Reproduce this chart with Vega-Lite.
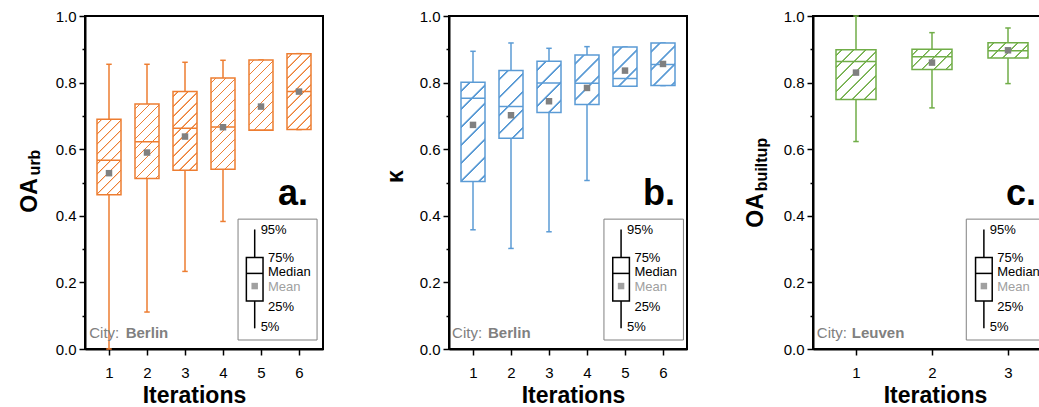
{
  "$schema": "https://vega.github.io/schema/vega-lite/v6.json",
  "background": "white",
  "padding": {"left": 17, "top": 8, "right": 0, "bottom": 0},
  "bounds": "flush",
  "spacing": 126,
  "config": {
    "font": "Liberation Sans",
    "view": {"stroke": "black", "strokeWidth": 2},
    "axis": {"labelFont": "Liberation Sans", "labelFontSize": 15, "labelColor": "black", "domainColor": "black", "domainWidth": 2, "tickColor": "black", "tickWidth": 1.5, "grid": false, "titleFont": "Liberation Sans", "titleFontWeight": "bold", "titleColor": "black"}
  },
  "params": [
    {"name": "stopsA", "value": [
      {"offset":0.0342,"color":"white"},{"offset":0.0382,"color":"#ED7D31"},{"offset":0.0452,"color":"#ED7D31"},{"offset":0.0492,"color":"white"},
      {"offset":0.1175,"color":"white"},{"offset":0.1215,"color":"#ED7D31"},{"offset":0.1285,"color":"#ED7D31"},{"offset":0.1325,"color":"white"},
      {"offset":0.2008,"color":"white"},{"offset":0.2048,"color":"#ED7D31"},{"offset":0.2118,"color":"#ED7D31"},{"offset":0.2158,"color":"white"},
      {"offset":0.2842,"color":"white"},{"offset":0.2882,"color":"#ED7D31"},{"offset":0.2952,"color":"#ED7D31"},{"offset":0.2992,"color":"white"},
      {"offset":0.3675,"color":"white"},{"offset":0.3715,"color":"#ED7D31"},{"offset":0.3785,"color":"#ED7D31"},{"offset":0.3825,"color":"white"},
      {"offset":0.4508,"color":"white"},{"offset":0.4548,"color":"#ED7D31"},{"offset":0.4618,"color":"#ED7D31"},{"offset":0.4658,"color":"white"},
      {"offset":0.5342,"color":"white"},{"offset":0.5382,"color":"#ED7D31"},{"offset":0.5452,"color":"#ED7D31"},{"offset":0.5492,"color":"white"},
      {"offset":0.6175,"color":"white"},{"offset":0.6215,"color":"#ED7D31"},{"offset":0.6285,"color":"#ED7D31"},{"offset":0.6325,"color":"white"},
      {"offset":0.7008,"color":"white"},{"offset":0.7048,"color":"#ED7D31"},{"offset":0.7118,"color":"#ED7D31"},{"offset":0.7158,"color":"white"},
      {"offset":0.7842,"color":"white"},{"offset":0.7882,"color":"#ED7D31"},{"offset":0.7952,"color":"#ED7D31"},{"offset":0.7992,"color":"white"},
      {"offset":0.8675,"color":"white"},{"offset":0.8715,"color":"#ED7D31"},{"offset":0.8785,"color":"#ED7D31"},{"offset":0.8825,"color":"white"},
      {"offset":0.9508,"color":"white"},{"offset":0.9548,"color":"#ED7D31"},{"offset":0.9618,"color":"#ED7D31"},{"offset":0.9658,"color":"white"}
    ]},
    {"name": "stopsB", "value": [
      {"offset":0.0342,"color":"white"},{"offset":0.0382,"color":"#5B9BD5"},{"offset":0.0452,"color":"#5B9BD5"},{"offset":0.0492,"color":"white"},
      {"offset":0.1175,"color":"white"},{"offset":0.1215,"color":"#5B9BD5"},{"offset":0.1285,"color":"#5B9BD5"},{"offset":0.1325,"color":"white"},
      {"offset":0.2008,"color":"white"},{"offset":0.2048,"color":"#5B9BD5"},{"offset":0.2118,"color":"#5B9BD5"},{"offset":0.2158,"color":"white"},
      {"offset":0.2842,"color":"white"},{"offset":0.2882,"color":"#5B9BD5"},{"offset":0.2952,"color":"#5B9BD5"},{"offset":0.2992,"color":"white"},
      {"offset":0.3675,"color":"white"},{"offset":0.3715,"color":"#5B9BD5"},{"offset":0.3785,"color":"#5B9BD5"},{"offset":0.3825,"color":"white"},
      {"offset":0.4508,"color":"white"},{"offset":0.4548,"color":"#5B9BD5"},{"offset":0.4618,"color":"#5B9BD5"},{"offset":0.4658,"color":"white"},
      {"offset":0.5342,"color":"white"},{"offset":0.5382,"color":"#5B9BD5"},{"offset":0.5452,"color":"#5B9BD5"},{"offset":0.5492,"color":"white"},
      {"offset":0.6175,"color":"white"},{"offset":0.6215,"color":"#5B9BD5"},{"offset":0.6285,"color":"#5B9BD5"},{"offset":0.6325,"color":"white"},
      {"offset":0.7008,"color":"white"},{"offset":0.7048,"color":"#5B9BD5"},{"offset":0.7118,"color":"#5B9BD5"},{"offset":0.7158,"color":"white"},
      {"offset":0.7842,"color":"white"},{"offset":0.7882,"color":"#5B9BD5"},{"offset":0.7952,"color":"#5B9BD5"},{"offset":0.7992,"color":"white"},
      {"offset":0.8675,"color":"white"},{"offset":0.8715,"color":"#5B9BD5"},{"offset":0.8785,"color":"#5B9BD5"},{"offset":0.8825,"color":"white"},
      {"offset":0.9508,"color":"white"},{"offset":0.9548,"color":"#5B9BD5"},{"offset":0.9618,"color":"#5B9BD5"},{"offset":0.9658,"color":"white"}
    ]},
    {"name": "stopsC", "value": [
      {"offset":0.0342,"color":"white"},{"offset":0.0382,"color":"#70AD47"},{"offset":0.0452,"color":"#70AD47"},{"offset":0.0492,"color":"white"},
      {"offset":0.1175,"color":"white"},{"offset":0.1215,"color":"#70AD47"},{"offset":0.1285,"color":"#70AD47"},{"offset":0.1325,"color":"white"},
      {"offset":0.2008,"color":"white"},{"offset":0.2048,"color":"#70AD47"},{"offset":0.2118,"color":"#70AD47"},{"offset":0.2158,"color":"white"},
      {"offset":0.2842,"color":"white"},{"offset":0.2882,"color":"#70AD47"},{"offset":0.2952,"color":"#70AD47"},{"offset":0.2992,"color":"white"},
      {"offset":0.3675,"color":"white"},{"offset":0.3715,"color":"#70AD47"},{"offset":0.3785,"color":"#70AD47"},{"offset":0.3825,"color":"white"},
      {"offset":0.4508,"color":"white"},{"offset":0.4548,"color":"#70AD47"},{"offset":0.4618,"color":"#70AD47"},{"offset":0.4658,"color":"white"},
      {"offset":0.5342,"color":"white"},{"offset":0.5382,"color":"#70AD47"},{"offset":0.5452,"color":"#70AD47"},{"offset":0.5492,"color":"white"},
      {"offset":0.6175,"color":"white"},{"offset":0.6215,"color":"#70AD47"},{"offset":0.6285,"color":"#70AD47"},{"offset":0.6325,"color":"white"},
      {"offset":0.7008,"color":"white"},{"offset":0.7048,"color":"#70AD47"},{"offset":0.7118,"color":"#70AD47"},{"offset":0.7158,"color":"white"},
      {"offset":0.7842,"color":"white"},{"offset":0.7882,"color":"#70AD47"},{"offset":0.7952,"color":"#70AD47"},{"offset":0.7992,"color":"white"},
      {"offset":0.8675,"color":"white"},{"offset":0.8715,"color":"#70AD47"},{"offset":0.8785,"color":"#70AD47"},{"offset":0.8825,"color":"white"},
      {"offset":0.9508,"color":"white"},{"offset":0.9548,"color":"#70AD47"},{"offset":0.9618,"color":"#70AD47"},{"offset":0.9658,"color":"white"}
    ]}
  ],
  "datasets": {
    "berlinOA": [
      {"iter": 1, "p5": 0.0, "q1": 0.463, "median": 0.567, "mean": 0.528, "q3": 0.690, "p95": 0.855},
      {"iter": 2, "p5": 0.111, "q1": 0.512, "median": 0.622, "mean": 0.590, "q3": 0.736, "p95": 0.855},
      {"iter": 3, "p5": 0.233, "q1": 0.537, "median": 0.663, "mean": 0.638, "q3": 0.773, "p95": 0.861},
      {"iter": 4, "p5": 0.383, "q1": 0.540, "median": 0.667, "mean": 0.666, "q3": 0.814, "p95": 0.867},
      {"iter": 5, "p5": 0.657, "q1": 0.657, "median": 0.657, "mean": 0.728, "q3": 0.868, "p95": 0.868},
      {"iter": 6, "p5": 0.659, "q1": 0.659, "median": 0.773, "mean": 0.773, "q3": 0.887, "p95": 0.887}
    ],
    "berlinKappa": [
      {"iter": 1, "p5": 0.358, "q1": 0.503, "median": 0.753, "mean": 0.673, "q3": 0.801, "p95": 0.894},
      {"iter": 2, "p5": 0.302, "q1": 0.633, "median": 0.728, "mean": 0.702, "q3": 0.836, "p95": 0.919},
      {"iter": 3, "p5": 0.352, "q1": 0.710, "median": 0.799, "mean": 0.744, "q3": 0.864, "p95": 0.903},
      {"iter": 4, "p5": 0.506, "q1": 0.734, "median": 0.798, "mean": 0.784, "q3": 0.883, "p95": 0.908},
      {"iter": 5, "p5": 0.789, "q1": 0.789, "median": 0.812, "mean": 0.836, "q3": 0.907, "p95": 0.907},
      {"iter": 6, "p5": 0.791, "q1": 0.791, "median": 0.854, "mean": 0.856, "q3": 0.919, "p95": 0.919}
    ],
    "leuvenOA": [
      {"iter": 1, "p5": 0.623, "q1": 0.749, "median": 0.863, "mean": 0.830, "q3": 0.899, "p95": 1.0},
      {"iter": 2, "p5": 0.724, "q1": 0.839, "median": 0.878, "mean": 0.860, "q3": 0.900, "p95": 0.950},
      {"iter": 3, "p5": 0.797, "q1": 0.874, "median": 0.896, "mean": 0.897, "q3": 0.920, "p95": 0.964}
    ]
  },
  "hconcat": [
    {
      "width": 238, "height": 333,
      "resolve": {"scale": {"x": "independent", "y": "independent"}, "axis": {"x": "independent", "y": "independent"}},
      "layer": [
        {
          "data": {"name": "berlinOA"},
          "encoding": {"x": {"field": "iter", "type": "quantitative", "scale": {"domain": [0.5, 6.5], "nice": false, "zero": false}, "axis": {"orient": "bottom", "values": [1, 2, 3, 4, 5, 6], "format": "d", "labelFlush": false, "tickSize": 6, "labelPadding": 10, "title": "Iterations", "titleFontSize": 23, "titleAlign": "center", "titleBaseline": "alphabetic", "titleX": 109, "titleY": 53}}},
          "layer": [
            {"mark": {"type": "rule", "stroke": "#ED7D31", "strokeWidth": 1.5}, "encoding": {"y": {"field": "p5", "type": "quantitative", "scale": {"domain": [0, 1], "nice": false}, "axis": {"orient": "left", "values": [0, 0.2, 0.4, 0.6, 0.8, 1], "format": ".1f", "tickSize": 6, "labelPadding": 3, "title": "OA", "titleFontSize": 23, "titleAngle": 270, "titleAlign": "center", "titleBaseline": "alphabetic", "titleX": -49, "titleY": 179}}, "y2": {"field": "q1"}}},
            {"mark": {"type": "rule", "stroke": "#ED7D31", "strokeWidth": 1.5}, "encoding": {"y": {"field": "q3", "type": "quantitative", "scale": {"domain": [0, 1], "nice": false}}, "y2": {"field": "p95"}}},
            {"mark": {"type": "point", "shape": "stroke", "size": 30, "filled": false, "stroke": "#ED7D31", "strokeWidth": 1.5, "opacity": 1}, "encoding": {"y": {"field": "p95", "type": "quantitative", "scale": {"domain": [0, 1], "nice": false}}}},
            {"mark": {"type": "point", "shape": "stroke", "size": 30, "filled": false, "stroke": "#ED7D31", "strokeWidth": 1.5, "opacity": 1}, "encoding": {"y": {"field": "p5", "type": "quantitative", "scale": {"domain": [0, 1], "nice": false}}}},
            {"mark": {"type": "bar", "size": 24, "fill": {"expr": "{gradient: 'linear', x1: 0, y1: 0, x2: 120*24/(576+pow((datum.q3-datum.q1)*333,2)), y2: 120*(datum.q3-datum.q1)*333/(576+pow((datum.q3-datum.q1)*333,2)), stops: stopsA}"}, "stroke": "#ED7D31", "strokeWidth": 1.5}, "encoding": {"y": {"field": "q1", "type": "quantitative", "scale": {"domain": [0, 1], "nice": false}}, "y2": {"field": "q3"}}},
            {"mark": {"type": "bar", "size": 24, "fill": "transparent", "stroke": "#ED7D31", "strokeWidth": 1.5}, "encoding": {"y": {"field": "median", "type": "quantitative", "scale": {"domain": [0, 1], "nice": false}}, "y2": {"field": "median"}}},
            {"mark": {"type": "point", "shape": "square", "filled": true, "size": 42, "fill": "#808080", "strokeWidth": 0, "opacity": 1}, "encoding": {"y": {"field": "mean", "type": "quantitative", "scale": {"domain": [0, 1], "nice": false}}}}
          ]
        },
        {
          "data": {"values": [{}]},
          "layer": [
            {"mark": {"type": "rect", "fill": "white", "stroke": "#808080", "strokeWidth": 1}, "encoding": {"x": {"datum": 0.643, "type": "quantitative", "scale": {"domain": [0, 1], "nice": false}, "axis": null}, "x2": {"datum": 0.975}, "y": {"datum": 0.390, "type": "quantitative", "scale": {"domain": [0, 1], "nice": false}, "axis": null}, "y2": {"datum": 0.027}}},
            {"mark": {"type": "rule", "stroke": "black", "strokeWidth": 1.5}, "encoding": {"x": {"datum": 0.713, "type": "quantitative", "scale": {"domain": [0, 1], "nice": false}, "axis": null}, "y": {"datum": 0.359, "type": "quantitative", "scale": {"domain": [0, 1], "nice": false}, "axis": null}, "y2": {"datum": 0.062}}},
            {"mark": {"type": "rect", "fill": "white", "stroke": "black", "strokeWidth": 1.5}, "encoding": {"x": {"datum": 0.678, "type": "quantitative", "scale": {"domain": [0, 1], "nice": false}, "axis": null}, "x2": {"datum": 0.748}, "y": {"datum": 0.275, "type": "quantitative", "scale": {"domain": [0, 1], "nice": false}, "axis": null}, "y2": {"datum": 0.144}}},
            {"mark": {"type": "rule", "stroke": "black", "strokeWidth": 1.5}, "encoding": {"x": {"datum": 0.678, "type": "quantitative", "scale": {"domain": [0, 1], "nice": false}, "axis": null}, "x2": {"datum": 0.748}, "y": {"datum": 0.227, "type": "quantitative", "scale": {"domain": [0, 1], "nice": false}, "axis": null}}},
            {"mark": {"type": "point", "shape": "square", "filled": true, "size": 42, "fill": "#a0a0a0", "strokeWidth": 0, "opacity": 1}, "encoding": {"x": {"datum": 0.713, "type": "quantitative", "scale": {"domain": [0, 1], "nice": false}, "axis": null}, "y": {"datum": 0.189, "type": "quantitative", "scale": {"domain": [0, 1], "nice": false}, "axis": null}}},
            {"mark": {"type": "text", "text": "95%", "align": "left", "baseline": "middle", "fontSize": 13, "fill": "black"}, "encoding": {"x": {"datum": 0.738, "type": "quantitative", "scale": {"domain": [0, 1], "nice": false}, "axis": null}, "y": {"datum": 0.358, "type": "quantitative", "scale": {"domain": [0, 1], "nice": false}, "axis": null}}},
            {"mark": {"type": "text", "text": "75%", "align": "left", "baseline": "middle", "fontSize": 13, "fill": "black"}, "encoding": {"x": {"datum": 0.769, "type": "quantitative", "scale": {"domain": [0, 1], "nice": false}, "axis": null}, "y": {"datum": 0.274, "type": "quantitative", "scale": {"domain": [0, 1], "nice": false}, "axis": null}}},
            {"mark": {"type": "text", "text": "Median", "align": "left", "baseline": "middle", "fontSize": 13, "fill": "black"}, "encoding": {"x": {"datum": 0.769, "type": "quantitative", "scale": {"domain": [0, 1], "nice": false}, "axis": null}, "y": {"datum": 0.232, "type": "quantitative", "scale": {"domain": [0, 1], "nice": false}, "axis": null}}},
            {"mark": {"type": "text", "text": "Mean", "align": "left", "baseline": "middle", "fontSize": 13, "fill": "#a0a0a0"}, "encoding": {"x": {"datum": 0.769, "type": "quantitative", "scale": {"domain": [0, 1], "nice": false}, "axis": null}, "y": {"datum": 0.187, "type": "quantitative", "scale": {"domain": [0, 1], "nice": false}, "axis": null}}},
            {"mark": {"type": "text", "text": "25%", "align": "left", "baseline": "middle", "fontSize": 13, "fill": "black"}, "encoding": {"x": {"datum": 0.769, "type": "quantitative", "scale": {"domain": [0, 1], "nice": false}, "axis": null}, "y": {"datum": 0.127, "type": "quantitative", "scale": {"domain": [0, 1], "nice": false}, "axis": null}}},
            {"mark": {"type": "text", "text": "5%", "align": "left", "baseline": "middle", "fontSize": 13, "fill": "black"}, "encoding": {"x": {"datum": 0.738, "type": "quantitative", "scale": {"domain": [0, 1], "nice": false}, "axis": null}, "y": {"datum": 0.065, "type": "quantitative", "scale": {"domain": [0, 1], "nice": false}, "axis": null}}},
            {"mark": {"type": "text", "text": "City:", "align": "left", "baseline": "alphabetic", "fontSize": 15, "fill": "#808080"}, "encoding": {"x": {"datum": 0.018, "type": "quantitative", "scale": {"domain": [0, 1], "nice": false}, "axis": null}, "y": {"datum": 0.033, "type": "quantitative", "scale": {"domain": [0, 1], "nice": false}, "axis": null}}},
            {"mark": {"type": "text", "text": "Berlin", "align": "left", "baseline": "alphabetic", "fontSize": 15, "fontWeight": "bold", "fill": "#808080"}, "encoding": {"x": {"datum": 0.171, "type": "quantitative", "scale": {"domain": [0, 1], "nice": false}, "axis": null}, "y": {"datum": 0.033, "type": "quantitative", "scale": {"domain": [0, 1], "nice": false}, "axis": null}}},
            {"mark": {"type": "text", "text": "a.", "align": "right", "baseline": "alphabetic", "fontSize": 36, "fontWeight": "bold", "fill": "black"}, "encoding": {"x": {"datum": 0.937, "type": "quantitative", "scale": {"domain": [0, 1], "nice": false}, "axis": null}, "y": {"datum": 0.432, "type": "quantitative", "scale": {"domain": [0, 1], "nice": false}, "axis": null}}}
          ]
        },
        {
          "data": {"values": [{}]},
          "mark": {"type": "rule", "opacity": 0},
          "encoding": {"y": {"datum": 0.5, "type": "quantitative", "scale": {"domain": [0, 1], "nice": false}, "axis": {"orient": "left", "values": [0.1, 0.3, 0.5, 0.7, 0.9], "labels": false, "domain": false, "tickSize": 3, "title": "urb", "titleFontSize": 16, "titleAngle": 270, "titleAlign": "center", "titleBaseline": "alphabetic", "titleX": -46, "titleY": 146}}}
        }
      ]
    },
    {
      "width": 238, "height": 333,
      "resolve": {"scale": {"x": "independent", "y": "independent"}, "axis": {"x": "independent", "y": "independent"}},
      "layer": [
        {
          "data": {"name": "berlinKappa"},
          "encoding": {"x": {"field": "iter", "type": "quantitative", "scale": {"domain": [0.5, 6.5], "nice": false, "zero": false}, "axis": {"orient": "bottom", "values": [1, 2, 3, 4, 5, 6], "format": "d", "labelFlush": false, "tickSize": 6, "labelPadding": 10, "title": "Iterations", "titleFontSize": 23, "titleAlign": "center", "titleBaseline": "alphabetic", "titleX": 124, "titleY": 53}}},
          "layer": [
            {"mark": {"type": "rule", "stroke": "#5B9BD5", "strokeWidth": 1.5}, "encoding": {"y": {"field": "p5", "type": "quantitative", "scale": {"domain": [0, 1], "nice": false}, "axis": {"orient": "left", "values": [0, 0.2, 0.4, 0.6, 0.8, 1], "format": ".1f", "tickSize": 6, "labelPadding": 3, "title": "κ", "titleFontSize": 23, "titleAngle": 270, "titleAlign": "center", "titleBaseline": "alphabetic", "titleX": -47, "titleY": 160}}, "y2": {"field": "q1"}}},
            {"mark": {"type": "rule", "stroke": "#5B9BD5", "strokeWidth": 1.5}, "encoding": {"y": {"field": "q3", "type": "quantitative", "scale": {"domain": [0, 1], "nice": false}}, "y2": {"field": "p95"}}},
            {"mark": {"type": "point", "shape": "stroke", "size": 30, "filled": false, "stroke": "#5B9BD5", "strokeWidth": 1.5, "opacity": 1}, "encoding": {"y": {"field": "p95", "type": "quantitative", "scale": {"domain": [0, 1], "nice": false}}}},
            {"mark": {"type": "point", "shape": "stroke", "size": 30, "filled": false, "stroke": "#5B9BD5", "strokeWidth": 1.5, "opacity": 1}, "encoding": {"y": {"field": "p5", "type": "quantitative", "scale": {"domain": [0, 1], "nice": false}}}},
            {"mark": {"type": "bar", "size": 24, "fill": {"expr": "{gradient: 'linear', x1: 0, y1: 0, x2: 216*24/(576+pow((datum.q3-datum.q1)*333,2)), y2: 216*(datum.q3-datum.q1)*333/(576+pow((datum.q3-datum.q1)*333,2)), stops: stopsB}"}, "stroke": "#5B9BD5", "strokeWidth": 1.5}, "encoding": {"y": {"field": "q1", "type": "quantitative", "scale": {"domain": [0, 1], "nice": false}}, "y2": {"field": "q3"}}},
            {"mark": {"type": "bar", "size": 24, "fill": "transparent", "stroke": "#5B9BD5", "strokeWidth": 1.5}, "encoding": {"y": {"field": "median", "type": "quantitative", "scale": {"domain": [0, 1], "nice": false}}, "y2": {"field": "median"}}},
            {"mark": {"type": "point", "shape": "square", "filled": true, "size": 42, "fill": "#808080", "strokeWidth": 0, "opacity": 1}, "encoding": {"y": {"field": "mean", "type": "quantitative", "scale": {"domain": [0, 1], "nice": false}}}}
          ]
        },
        {
          "data": {"values": [{}]},
          "layer": [
            {"mark": {"type": "rect", "fill": "white", "stroke": "#808080", "strokeWidth": 1}, "encoding": {"x": {"datum": 0.651, "type": "quantitative", "scale": {"domain": [0, 1], "nice": false}, "axis": null}, "x2": {"datum": 0.985}, "y": {"datum": 0.390, "type": "quantitative", "scale": {"domain": [0, 1], "nice": false}, "axis": null}, "y2": {"datum": 0.027}}},
            {"mark": {"type": "rule", "stroke": "black", "strokeWidth": 1.5}, "encoding": {"x": {"datum": 0.723, "type": "quantitative", "scale": {"domain": [0, 1], "nice": false}, "axis": null}, "y": {"datum": 0.359, "type": "quantitative", "scale": {"domain": [0, 1], "nice": false}, "axis": null}, "y2": {"datum": 0.062}}},
            {"mark": {"type": "rect", "fill": "white", "stroke": "black", "strokeWidth": 1.5}, "encoding": {"x": {"datum": 0.688, "type": "quantitative", "scale": {"domain": [0, 1], "nice": false}, "axis": null}, "x2": {"datum": 0.758}, "y": {"datum": 0.275, "type": "quantitative", "scale": {"domain": [0, 1], "nice": false}, "axis": null}, "y2": {"datum": 0.144}}},
            {"mark": {"type": "rule", "stroke": "black", "strokeWidth": 1.5}, "encoding": {"x": {"datum": 0.688, "type": "quantitative", "scale": {"domain": [0, 1], "nice": false}, "axis": null}, "x2": {"datum": 0.758}, "y": {"datum": 0.227, "type": "quantitative", "scale": {"domain": [0, 1], "nice": false}, "axis": null}}},
            {"mark": {"type": "point", "shape": "square", "filled": true, "size": 42, "fill": "#a0a0a0", "strokeWidth": 0, "opacity": 1}, "encoding": {"x": {"datum": 0.723, "type": "quantitative", "scale": {"domain": [0, 1], "nice": false}, "axis": null}, "y": {"datum": 0.189, "type": "quantitative", "scale": {"domain": [0, 1], "nice": false}, "axis": null}}},
            {"mark": {"type": "text", "text": "95%", "align": "left", "baseline": "middle", "fontSize": 13, "fill": "black"}, "encoding": {"x": {"datum": 0.748, "type": "quantitative", "scale": {"domain": [0, 1], "nice": false}, "axis": null}, "y": {"datum": 0.358, "type": "quantitative", "scale": {"domain": [0, 1], "nice": false}, "axis": null}}},
            {"mark": {"type": "text", "text": "75%", "align": "left", "baseline": "middle", "fontSize": 13, "fill": "black"}, "encoding": {"x": {"datum": 0.779, "type": "quantitative", "scale": {"domain": [0, 1], "nice": false}, "axis": null}, "y": {"datum": 0.274, "type": "quantitative", "scale": {"domain": [0, 1], "nice": false}, "axis": null}}},
            {"mark": {"type": "text", "text": "Median", "align": "left", "baseline": "middle", "fontSize": 13, "fill": "black"}, "encoding": {"x": {"datum": 0.779, "type": "quantitative", "scale": {"domain": [0, 1], "nice": false}, "axis": null}, "y": {"datum": 0.232, "type": "quantitative", "scale": {"domain": [0, 1], "nice": false}, "axis": null}}},
            {"mark": {"type": "text", "text": "Mean", "align": "left", "baseline": "middle", "fontSize": 13, "fill": "#a0a0a0"}, "encoding": {"x": {"datum": 0.779, "type": "quantitative", "scale": {"domain": [0, 1], "nice": false}, "axis": null}, "y": {"datum": 0.187, "type": "quantitative", "scale": {"domain": [0, 1], "nice": false}, "axis": null}}},
            {"mark": {"type": "text", "text": "25%", "align": "left", "baseline": "middle", "fontSize": 13, "fill": "black"}, "encoding": {"x": {"datum": 0.779, "type": "quantitative", "scale": {"domain": [0, 1], "nice": false}, "axis": null}, "y": {"datum": 0.127, "type": "quantitative", "scale": {"domain": [0, 1], "nice": false}, "axis": null}}},
            {"mark": {"type": "text", "text": "5%", "align": "left", "baseline": "middle", "fontSize": 13, "fill": "black"}, "encoding": {"x": {"datum": 0.748, "type": "quantitative", "scale": {"domain": [0, 1], "nice": false}, "axis": null}, "y": {"datum": 0.065, "type": "quantitative", "scale": {"domain": [0, 1], "nice": false}, "axis": null}}},
            {"mark": {"type": "text", "text": "City:", "align": "left", "baseline": "alphabetic", "fontSize": 15, "fill": "#808080"}, "encoding": {"x": {"datum": 0.013, "type": "quantitative", "scale": {"domain": [0, 1], "nice": false}, "axis": null}, "y": {"datum": 0.033, "type": "quantitative", "scale": {"domain": [0, 1], "nice": false}, "axis": null}}},
            {"mark": {"type": "text", "text": "Berlin", "align": "left", "baseline": "alphabetic", "fontSize": 15, "fontWeight": "bold", "fill": "#808080"}, "encoding": {"x": {"datum": 0.164, "type": "quantitative", "scale": {"domain": [0, 1], "nice": false}, "axis": null}, "y": {"datum": 0.033, "type": "quantitative", "scale": {"domain": [0, 1], "nice": false}, "axis": null}}},
            {"mark": {"type": "text", "text": "b.", "align": "right", "baseline": "alphabetic", "fontSize": 36, "fontWeight": "bold", "fill": "black"}, "encoding": {"x": {"datum": 0.95, "type": "quantitative", "scale": {"domain": [0, 1], "nice": false}, "axis": null}, "y": {"datum": 0.432, "type": "quantitative", "scale": {"domain": [0, 1], "nice": false}, "axis": null}}}
          ]
        },
        {
          "data": {"values": [{}]},
          "mark": {"type": "rule", "opacity": 0},
          "encoding": {"y": {"datum": 0.5, "type": "quantitative", "scale": {"domain": [0, 1], "nice": false}, "axis": {"orient": "left", "values": [0.1, 0.3, 0.5, 0.7, 0.9], "labels": false, "domain": false, "tickSize": 3, "title": null}}}
        }
      ]
    },
    {
      "width": 238, "height": 333,
      "resolve": {"scale": {"x": "independent", "y": "independent"}, "axis": {"x": "independent", "y": "independent"}},
      "layer": [
        {
          "data": {"name": "leuvenOA"},
          "encoding": {"x": {"field": "iter", "type": "quantitative", "scale": {"domain": [0.5, 3.5], "nice": false, "zero": false}, "axis": {"orient": "bottom", "values": [1, 2, 3], "format": "d", "labelFlush": false, "tickSize": 6, "labelPadding": 10, "title": "Iterations", "titleFontSize": 23, "titleAlign": "center", "titleBaseline": "alphabetic", "titleX": 122, "titleY": 53}}},
          "layer": [
            {"mark": {"type": "rule", "stroke": "#70AD47", "strokeWidth": 1.5}, "encoding": {"y": {"field": "p5", "type": "quantitative", "scale": {"domain": [0, 1], "nice": false}, "axis": {"orient": "left", "values": [0, 0.2, 0.4, 0.6, 0.8, 1], "format": ".1f", "tickSize": 6, "labelPadding": 3, "title": "OA", "titleFontSize": 23, "titleAngle": 270, "titleAlign": "center", "titleBaseline": "alphabetic", "titleX": -51, "titleY": 194}}, "y2": {"field": "q1"}}},
            {"mark": {"type": "rule", "stroke": "#70AD47", "strokeWidth": 1.5}, "encoding": {"y": {"field": "q3", "type": "quantitative", "scale": {"domain": [0, 1], "nice": false}}, "y2": {"field": "p95"}}},
            {"mark": {"type": "point", "shape": "stroke", "size": 30, "filled": false, "stroke": "#70AD47", "strokeWidth": 1.5, "opacity": 1}, "encoding": {"y": {"field": "p95", "type": "quantitative", "scale": {"domain": [0, 1], "nice": false}}}},
            {"mark": {"type": "point", "shape": "stroke", "size": 30, "filled": false, "stroke": "#70AD47", "strokeWidth": 1.5, "opacity": 1}, "encoding": {"y": {"field": "p5", "type": "quantitative", "scale": {"domain": [0, 1], "nice": false}}}},
            {"mark": {"type": "bar", "size": 40, "fill": {"expr": "{gradient: 'linear', x1: 0, y1: 0, x2: 144*40/(1600+pow((datum.q3-datum.q1)*333,2)), y2: 144*(datum.q3-datum.q1)*333/(1600+pow((datum.q3-datum.q1)*333,2)), stops: stopsC}"}, "stroke": "#70AD47", "strokeWidth": 1.5}, "encoding": {"y": {"field": "q1", "type": "quantitative", "scale": {"domain": [0, 1], "nice": false}}, "y2": {"field": "q3"}}},
            {"mark": {"type": "bar", "size": 40, "fill": "transparent", "stroke": "#70AD47", "strokeWidth": 1.5}, "encoding": {"y": {"field": "median", "type": "quantitative", "scale": {"domain": [0, 1], "nice": false}}, "y2": {"field": "median"}}},
            {"mark": {"type": "point", "shape": "square", "filled": true, "size": 42, "fill": "#808080", "strokeWidth": 0, "opacity": 1}, "encoding": {"y": {"field": "mean", "type": "quantitative", "scale": {"domain": [0, 1], "nice": false}}}}
          ]
        },
        {
          "data": {"values": [{}]},
          "layer": [
            {"mark": {"type": "rect", "fill": "white", "stroke": "#808080", "strokeWidth": 1}, "encoding": {"x": {"datum": 0.644, "type": "quantitative", "scale": {"domain": [0, 1], "nice": false}, "axis": null}, "x2": {"datum": 0.976}, "y": {"datum": 0.390, "type": "quantitative", "scale": {"domain": [0, 1], "nice": false}, "axis": null}, "y2": {"datum": 0.027}}},
            {"mark": {"type": "rule", "stroke": "black", "strokeWidth": 1.5}, "encoding": {"x": {"datum": 0.718, "type": "quantitative", "scale": {"domain": [0, 1], "nice": false}, "axis": null}, "y": {"datum": 0.359, "type": "quantitative", "scale": {"domain": [0, 1], "nice": false}, "axis": null}, "y2": {"datum": 0.062}}},
            {"mark": {"type": "rect", "fill": "white", "stroke": "black", "strokeWidth": 1.5}, "encoding": {"x": {"datum": 0.683, "type": "quantitative", "scale": {"domain": [0, 1], "nice": false}, "axis": null}, "x2": {"datum": 0.753}, "y": {"datum": 0.275, "type": "quantitative", "scale": {"domain": [0, 1], "nice": false}, "axis": null}, "y2": {"datum": 0.144}}},
            {"mark": {"type": "rule", "stroke": "black", "strokeWidth": 1.5}, "encoding": {"x": {"datum": 0.683, "type": "quantitative", "scale": {"domain": [0, 1], "nice": false}, "axis": null}, "x2": {"datum": 0.753}, "y": {"datum": 0.227, "type": "quantitative", "scale": {"domain": [0, 1], "nice": false}, "axis": null}}},
            {"mark": {"type": "point", "shape": "square", "filled": true, "size": 42, "fill": "#a0a0a0", "strokeWidth": 0, "opacity": 1}, "encoding": {"x": {"datum": 0.718, "type": "quantitative", "scale": {"domain": [0, 1], "nice": false}, "axis": null}, "y": {"datum": 0.189, "type": "quantitative", "scale": {"domain": [0, 1], "nice": false}, "axis": null}}},
            {"mark": {"type": "text", "text": "95%", "align": "left", "baseline": "middle", "fontSize": 13, "fill": "black"}, "encoding": {"x": {"datum": 0.743, "type": "quantitative", "scale": {"domain": [0, 1], "nice": false}, "axis": null}, "y": {"datum": 0.358, "type": "quantitative", "scale": {"domain": [0, 1], "nice": false}, "axis": null}}},
            {"mark": {"type": "text", "text": "75%", "align": "left", "baseline": "middle", "fontSize": 13, "fill": "black"}, "encoding": {"x": {"datum": 0.774, "type": "quantitative", "scale": {"domain": [0, 1], "nice": false}, "axis": null}, "y": {"datum": 0.274, "type": "quantitative", "scale": {"domain": [0, 1], "nice": false}, "axis": null}}},
            {"mark": {"type": "text", "text": "Median", "align": "left", "baseline": "middle", "fontSize": 13, "fill": "black"}, "encoding": {"x": {"datum": 0.774, "type": "quantitative", "scale": {"domain": [0, 1], "nice": false}, "axis": null}, "y": {"datum": 0.232, "type": "quantitative", "scale": {"domain": [0, 1], "nice": false}, "axis": null}}},
            {"mark": {"type": "text", "text": "Mean", "align": "left", "baseline": "middle", "fontSize": 13, "fill": "#a0a0a0"}, "encoding": {"x": {"datum": 0.774, "type": "quantitative", "scale": {"domain": [0, 1], "nice": false}, "axis": null}, "y": {"datum": 0.187, "type": "quantitative", "scale": {"domain": [0, 1], "nice": false}, "axis": null}}},
            {"mark": {"type": "text", "text": "25%", "align": "left", "baseline": "middle", "fontSize": 13, "fill": "black"}, "encoding": {"x": {"datum": 0.774, "type": "quantitative", "scale": {"domain": [0, 1], "nice": false}, "axis": null}, "y": {"datum": 0.127, "type": "quantitative", "scale": {"domain": [0, 1], "nice": false}, "axis": null}}},
            {"mark": {"type": "text", "text": "5%", "align": "left", "baseline": "middle", "fontSize": 13, "fill": "black"}, "encoding": {"x": {"datum": 0.743, "type": "quantitative", "scale": {"domain": [0, 1], "nice": false}, "axis": null}, "y": {"datum": 0.065, "type": "quantitative", "scale": {"domain": [0, 1], "nice": false}, "axis": null}}},
            {"mark": {"type": "text", "text": "City:", "align": "left", "baseline": "alphabetic", "fontSize": 15, "fill": "#808080"}, "encoding": {"x": {"datum": 0.016, "type": "quantitative", "scale": {"domain": [0, 1], "nice": false}, "axis": null}, "y": {"datum": 0.033, "type": "quantitative", "scale": {"domain": [0, 1], "nice": false}, "axis": null}}},
            {"mark": {"type": "text", "text": "Leuven", "align": "left", "baseline": "alphabetic", "fontSize": 15, "fontWeight": "bold", "fill": "#808080"}, "encoding": {"x": {"datum": 0.163, "type": "quantitative", "scale": {"domain": [0, 1], "nice": false}, "axis": null}, "y": {"datum": 0.033, "type": "quantitative", "scale": {"domain": [0, 1], "nice": false}, "axis": null}}},
            {"mark": {"type": "text", "text": "c.", "align": "right", "baseline": "alphabetic", "fontSize": 36, "fontWeight": "bold", "fill": "black"}, "encoding": {"x": {"datum": 0.937, "type": "quantitative", "scale": {"domain": [0, 1], "nice": false}, "axis": null}, "y": {"datum": 0.432, "type": "quantitative", "scale": {"domain": [0, 1], "nice": false}, "axis": null}}}
          ]
        },
        {
          "data": {"values": [{}]},
          "mark": {"type": "rule", "opacity": 0},
          "encoding": {"y": {"datum": 0.5, "type": "quantitative", "scale": {"domain": [0, 1], "nice": false}, "axis": {"orient": "left", "values": [0.1, 0.3, 0.5, 0.7, 0.9], "labels": false, "domain": false, "tickSize": 3, "title": "builtup", "titleFontSize": 16, "titleAngle": 270, "titleAlign": "center", "titleBaseline": "alphabetic", "titleX": -46.5, "titleY": 148}}}
        }
      ]
    }
  ]
}
